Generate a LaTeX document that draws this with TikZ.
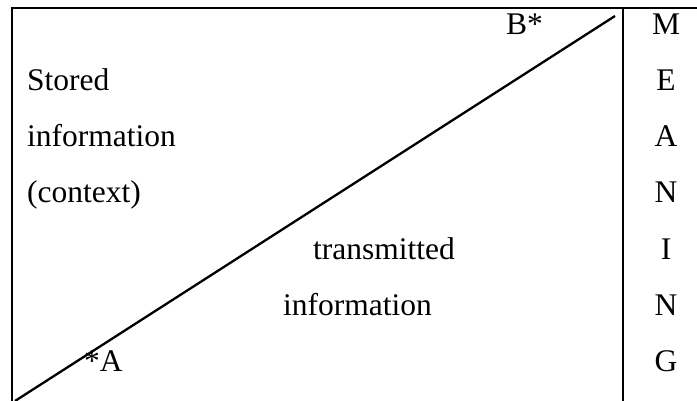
\documentclass[tikz,border=0pt]{standalone}
\usepackage{fontspec}
\setmainfont{Liberation Serif}
\begin{document}
\begin{tikzpicture}[x=1pt,y=-1pt,
  txt/.style={inner sep=0pt,anchor=base west,font=\fontsize{31.5}{36}\selectfont},
  letter/.style={inner sep=0pt,anchor=base,font=\fontsize{31.5}{36}\selectfont},
  frame/.style={line width=2.8pt,line cap=rect},
  rule/.style={line width=2.1pt},
  diag/.style={line width=2.3pt}]
\useasboundingbox (0,0) rectangle (697,401);
% outer frame: top edge and left edge, open at the bottom and right
\coordinate (tl) at (12,8);
\coordinate (tr) at (697,8);
\coordinate (bl) at (12,401);
\draw[frame] (bl) -- (tl) -- (tr);
% divider before the MEANING column
\coordinate (dt) at (623,8);
\coordinate (db) at (623,401);
\draw[rule] (dt) -- (db);
% diagonal separating stored and transmitted information
\coordinate (A) at (15,401);
\coordinate (B) at (615,16);
\draw[diag] (A) -- (B);
% left texts
\node[txt] (stored) at (27,91) {Stored};
\node[txt] (info1) at (27,147) {information};
\node[txt] (ctx) at (27,203) {(context)};
\node[txt] (trans) at (313,259) {transmitted};
\node[txt] (info2) at (283,315) {information};
\node[txt] (alabel) at (84,371) {*A};
\node[txt] (blabel) at (506,35) {B*};
% vertical word
\foreach \ch [count=\i from 0] in {M,E,A,N,I,N,G}
  \node[letter] (m\i) at (666,35+56*\i) {\ch};
\end{tikzpicture}
\end{document}
